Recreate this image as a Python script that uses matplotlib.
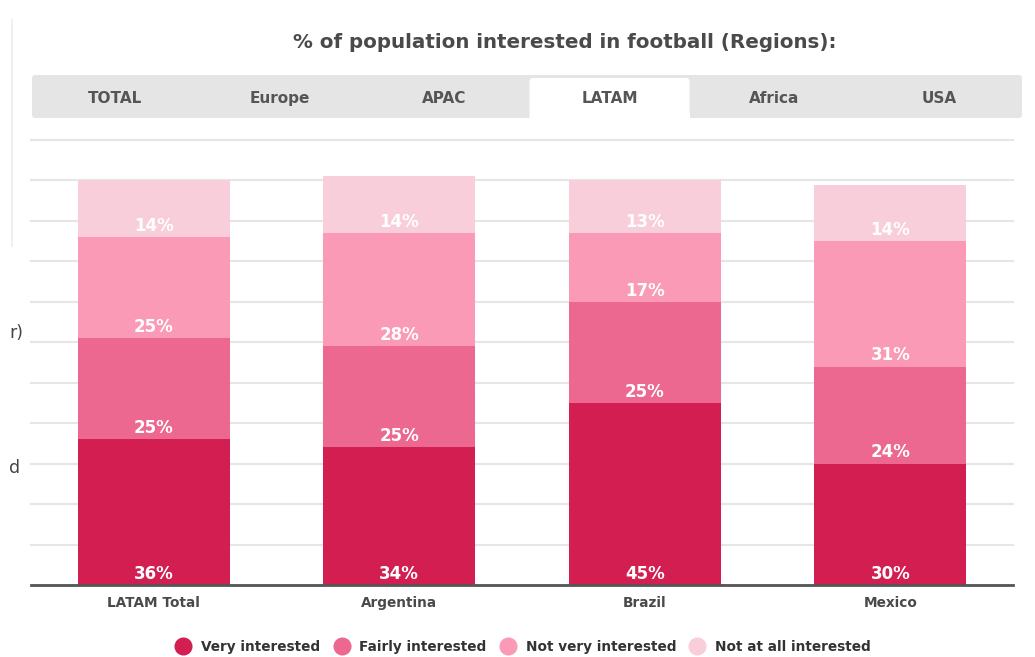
import matplotlib
matplotlib.use("Agg")
import matplotlib.pyplot as plt
from matplotlib.patches import Rectangle, FancyBboxPatch
from matplotlib.lines import Line2D

# ---- data ----
countries = ["LATAM Total", "Argentina", "Brazil", "Mexico"]
series_names = ["Very interested", "Fairly interested", "Not very interested", "Not at all interested"]
very_interested = [36, 34, 45, 30]
fairly_interested = [25, 25, 25, 24]
not_very_interested = [25, 28, 17, 31]
not_at_all_interested = [14, 14, 13, 14]
tabs = ["TOTAL", "Europe", "APAC", "LATAM", "Africa", "USA"]
active_tab = "LATAM"
title = "% of population interested in football (Regions):"

colors = ["#D31E52", "#EC6890", "#FA9AB7", "#F9CEDB"]
series = [very_interested, fairly_interested, not_very_interested, not_at_all_interested]

W, H = 1035, 657
fig = plt.figure(figsize=(W / 100, H / 100), dpi=100)
plt.rcParams['font.family'] = ['DejaVu Sans']

# overlay axes in pixel coordinates for page decorations
ov = fig.add_axes([0, 0, 1, 1])
ov.set_xlim(0, W)
ov.set_ylim(H, 0)
ov.axis("off")

# stray page artifacts at left
ov.plot([12, 12], [20, 246], color="#EDEDED", lw=1.2)
ov.text(9, 333, "r)", fontsize=12.5, color="#444444", va="center", ha="left")
ov.text(9, 468, "d", fontsize=12.5, color="#444444", va="center", ha="left")

# title
ov.text(565, 42, title, fontsize=14.3, fontweight="bold", color="#4A4A4A",
        ha="center", va="center")

# tab bar
bar_left, bar_right, bar_top, bar_bot = 32, 1022, 75, 118
ov.add_patch(FancyBboxPatch((bar_left, bar_top), bar_right - bar_left, bar_bot - bar_top,
                            boxstyle="round,pad=0,rounding_size=3",
                            facecolor="#E5E5E5", edgecolor="none"))
tab_w = (bar_right - bar_left) / len(tabs)
for i, t in enumerate(tabs):
    cx = bar_left + tab_w * (i + 0.5)
    if t == active_tab:
        ov.add_patch(FancyBboxPatch((cx - 80, bar_top + 3), 160, bar_bot - bar_top - 3 + 4,
                                    boxstyle="round,pad=0,rounding_size=3",
                                    facecolor="white", edgecolor="none"))
        ov.add_patch(Rectangle((cx - 80, bar_bot - 5), 160, 6, facecolor="white", edgecolor="none"))
    ov.text(cx, 103, t, fontsize=11, fontweight="bold", color="#555555",
            ha="center", va="baseline")

# main chart
ax = fig.add_axes([31 / W, (H - 585) / H, 982 / W, (585 - 140) / H])
ax.set_xlim(-0.5, 3.5)
ax.set_ylim(0, 110)
x = list(range(len(countries)))
bottoms = [0] * len(countries)
for vals, col, name in zip(series, colors, series_names):
    ax.bar(x, vals, bottom=bottoms, width=0.62, color=col, zorder=2, label=name)
    for xi, b, v in zip(x, bottoms, vals):
        ax.annotate(f"{v}%", xy=(xi, b), xytext=(0, 4.5), textcoords="offset points",
                    ha="center", va="baseline", color="white", fontsize=12,
                    fontweight="bold", zorder=3)
    bottoms = [b + v for b, v in zip(bottoms, vals)]

ax.set_yticks(range(0, 111, 10))
ax.yaxis.grid(True, color="#E6E6E6", lw=1.5, zorder=0)
for gl in ax.get_ygridlines():
    gl.set_clip_on(False)
ax.tick_params(axis="y", left=False, labelleft=False)
ax.tick_params(axis="x", length=0, pad=8)
ax.set_xticks(x)
ax.set_xticklabels(countries, fontsize=9.8, fontweight="bold", color="#4A4A4A")
for s in ["left", "right", "top"]:
    ax.spines[s].set_visible(False)
ax.spines["bottom"].set_color("#555555")
ax.spines["bottom"].set_linewidth(2)
ax.spines["bottom"].set_zorder(4)

# legend
handles = [Line2D([0], [0], marker="o", linestyle="none", markersize=12,
                  markerfacecolor=c, markeredgecolor=c) for c in colors]
leg = fig.legend(handles, series_names, loc="center", bbox_to_anchor=(523 / W, 1 - 647 / H),
                 ncol=4, frameon=False, fontsize=9.8, handletextpad=0.7, columnspacing=0.97,
                 handlelength=1.2)
for t in leg.get_texts():
    t.set_color("#333333")
    t.set_fontweight("bold")

fig.savefig("out.png", dpi=100, facecolor="white")
